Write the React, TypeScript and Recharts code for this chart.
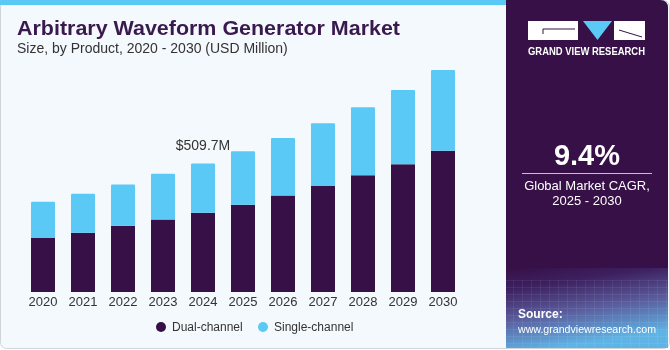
import React from 'react';
import { BarChart, Bar, XAxis, YAxis, LabelList } from 'recharts';

const years = ['2020', '2021', '2022', '2023', '2024', '2025', '2026', '2027', '2028', '2029', '2030'];
const dualChannel = [213.9, 234.8, 262.6, 287.9, 314.0, 345.7, 382.9, 419.8, 463.3, 506.9, 559.6];
const singleChannel = [143.7, 154.5, 163.9, 180.6, 195.7, 212.7, 228.1, 249.4, 269.3, 294.2, 320.7];
const calloutYear = '2024';
const calloutText = '$509.7M';

const DUAL = '#371047';
const SINGLE = '#5bc9f5';
const FONT = '"Liberation Sans", Arial, sans-serif';

const data = years.map((year, i) => ({
  year,
  dual: dualChannel[i],
  single: singleChannel[i],
}));

const legendItems = [
  { label: 'Dual-channel', color: DUAL, left: 156 },
  { label: 'Single-channel', color: SINGLE, left: 258 },
];

const CalloutLabel = (props: any) => {
  const { x, y, width, index } = props;
  if (data[index]?.year !== calloutYear) return null;
  return (
    <text x={x + width / 2} y={y - 13} textAnchor="middle" fontSize={14} fill="#333" fontFamily={FONT}>
      {calloutText}
    </text>
  );
};

// legend sits outside the chart so it doesn't eat into the plot height
const ChartLegend = () => (
  <>
    {legendItems.map((item) => (
      <div
        key={item.label}
        style={{
          position: 'absolute', left: item.left, top: 320, display: 'flex', alignItems: 'center', gap: 6,
          fontFamily: FONT, fontSize: 12, color: '#333', whiteSpace: 'nowrap',
        }}
      >
        <span style={{ width: 10, height: 10, borderRadius: '50%', background: item.color, display: 'inline-block' }} />
        <span>{item.label}</span>
      </div>
    ))}
  </>
);

const Backdrop = () => (
  <svg width={670} height={350} style={{ position: 'absolute', left: 0, top: 0 }}>
    <defs>
      <linearGradient id="srcGrad" x1="0" y1="0" x2="0.3" y2="1">
        <stop offset="0%" stopColor="#371047" />
        <stop offset="25%" stopColor="#3d2060" />
        <stop offset="60%" stopColor="#5a5c9c" />
        <stop offset="100%" stopColor="#5fb4e6" />
      </linearGradient>
      <pattern id="grid" width="9" height="7" patternUnits="userSpaceOnUse">
        <path d="M 9 0 L 0 0 0 7" fill="none" stroke="#ffffff" strokeOpacity={0.12} strokeWidth={1} />
      </pattern>
    </defs>
    <rect x={0.5} y={0.5} width={669} height={348} rx={6} fill="#f4f9fd" stroke="#cfd4d8" />
    <rect x={0} y={0} width={506} height={5} fill={SINGLE} />
    <path d="M506 0 H660 Q668 0 668 8 V270 H506 Z" fill={DUAL} />
    <rect x={506} y={268} width={162} height={80} fill="url(#srcGrad)" />
    <rect x={506} y={280} width={162} height={68} fill="url(#grid)" />

    {/* logo */}
    <rect x={528} y={21} width={50} height={19} fill="#fff" />
    <path d="M583 21 H612 L597.5 40 Z" fill={SINGLE} />
    <rect x={614} y={21} width={31} height={19} fill="#fff" />
    <path d="M543 29 H575 M543 29 V34" stroke={DUAL} strokeWidth={1} fill="none" />
    <path d="M619 30 L642 37" stroke={DUAL} strokeWidth={1} fill="none" />
    <text x={586.5} y={55} textAnchor="middle" fontSize={10} fontWeight="bold" fill="#fff" fontFamily={FONT} textLength={117} lengthAdjust="spacingAndGlyphs">
      GRAND VIEW RESEARCH
    </text>

    <text x={17} y={35} fontSize={21} fontWeight="bold" fill="#3a1a4e" fontFamily={FONT} textLength={383} lengthAdjust="spacingAndGlyphs">
      Arbitrary Waveform Generator Market
    </text>
    <text x={17} y={53} fontSize={14} fill="#333" fontFamily={FONT}>
      Size, by Product, 2020 - 2030 (USD Million)
    </text>

    <text x={587} y={165} textAnchor="middle" fontSize={29} fontWeight="bold" fill="#fff" fontFamily={FONT}>
      9.4%
    </text>
    <line x1={522} y1={173.5} x2={652} y2={173.5} stroke="#c9bdd2" strokeWidth={1} />
    <text x={587} y={190} textAnchor="middle" fontSize={13} fill="#fff" fontFamily={FONT}>
      Global Market CAGR,
    </text>
    <text x={587} y={205} textAnchor="middle" fontSize={13} fill="#fff" fontFamily={FONT}>
      2025 - 2030
    </text>

    <text x={518} y={318} fontSize={12} fontWeight="bold" fill="#fff" fontFamily={FONT}>
      Source:
    </text>
    <text x={518} y={333} fontSize={11} fill="#fff" fontFamily={FONT} textLength={138} lengthAdjust="spacingAndGlyphs">
      www.grandviewresearch.com
    </text>
  </svg>
);

export default function App() {
  return (
    <div style={{ position: 'fixed', left: 0, top: 0, width: 670, height: 350, overflow: 'hidden' }}>
      <Backdrop />
      <div style={{ position: 'absolute', left: 0, top: 0 }}>
        <BarChart
          width={490}
          height={350}
          data={data}
          margin={{ top: 65, right: 27, bottom: 38, left: 23 }}
          barCategoryGap="20%"
        >
          <XAxis
            dataKey="year"
            axisLine={false}
            tickLine={false}
            tickSize={0}
            tickMargin={5}
            interval={0}
            height={20}
            tick={{ fill: '#333', fontSize: 13, fontFamily: FONT }}
          />
          <YAxis hide domain={[0, 900]} />
          <Bar dataKey="dual" stackId="a" fill={DUAL} isAnimationActive={false} />
          <Bar dataKey="single" stackId="a" fill={SINGLE} radius={[1, 1, 0, 0]} isAnimationActive={false}>
            <LabelList dataKey="single" content={CalloutLabel} />
          </Bar>
        </BarChart>
      </div>
      <ChartLegend />
    </div>
  );
}
